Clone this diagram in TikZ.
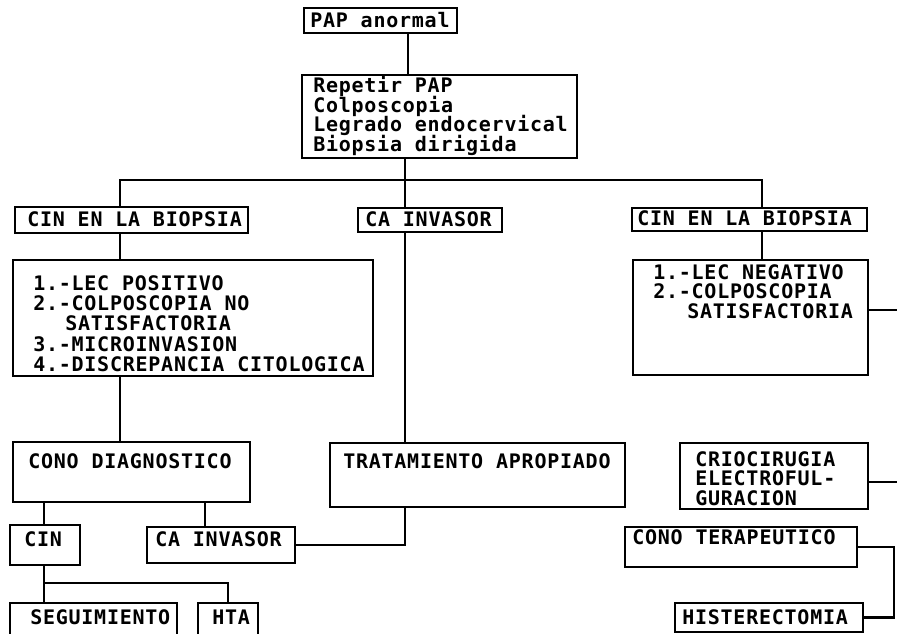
\documentclass[tikz,border=0pt]{standalone}
\usepackage{fontspec}
\newfontfamily\dotfont{DejaVu Sans Mono}[LetterSpace=3.8]
\usetikzlibrary{fit}
\begin{document}
\begin{tikzpicture}[x=0.75pt,y=-0.75pt,
  box/.style={draw, line width=1.7pt, inner sep=0pt, rectangle},
  txt/.style={anchor=base west, inner sep=0pt, font=\dotfont\bfseries\fontsize{15pt}{18pt}\selectfont},
  link/.style={line width=2pt}]
\useasboundingbox (0,0) rectangle (897,634);

% boxes
\node[box, fit={(304,8) (457,33)}] (pap) {};
\node[box, fit={(302,75) (577,158)}] (rep) {};
\node[box, fit={(15,207) (248,233)}] (cinL) {};
\node[box, fit={(358,208) (502,232)}] (caI) {};
\node[box, fit={(632,208) (867,231)}] (cinR) {};
\node[box, fit={(13,260) (373,376)}] (lecP) {};
\node[box, fit={(633,260) (868,375)}] (lecN) {};
\node[box, fit={(13,442) (250,502)}] (cond) {};
\node[box, fit={(330,443) (625,507)}] (trat) {};
\node[box, fit={(680,443) (868,509)}] (crio) {};
\node[box, fit={(10,525) (80,565)}] (cinS) {};
\node[box, fit={(147,527) (295,563)}] (caII) {};
\node[box, fit={(625,527) (857,567)}] (cono) {};
\node[box, fit={(10,603) (177,640)}] (seg) {};
\node[box, fit={(198,603) (258,640)}] (hta) {};
\node[box, fit={(675,603) (863,632)}] (hist) {};

% texts
\node[txt] (papT) at (310,28) {PAP anormal};
\node[txt] (rep1) at (313,93) {Repetir PAP};
\node[txt] (rep2) at (313,112.5) {Colposcopia};
\node[txt] (rep3) at (313,132) {Legrado endocervical};
\node[txt] (rep4) at (313,151.5) {Biopsia dirigida};
\node[txt] (cinLT) at (27,227) {CIN EN LA BIOPSIA};
\node[txt] (caIT) at (365,227) {CA INVASOR};
\node[txt] (cinRT) at (637,226) {CIN EN LA BIOPSIA};
\node[txt] (lecP1) at (33,290.5) {1.-LEC POSITIVO};
\node[txt] (lecP2) at (33,310.5) {2.-COLPOSCOPIA NO};
\node[txt] (lecP3) at (65,331) {SATISFACTORIA};
\node[txt] (lecP4) at (33,351.5) {3.-MICROINVASION};
\node[txt] (lecP5) at (33,372) {4.-DISCREPANCIA CITOLOGICA};
\node[txt] (lecN1) at (653,279.5) {1.-LEC NEGATIVO};
\node[txt] (lecN2) at (653,299) {2.-COLPOSCOPIA};
\node[txt] (lecN3) at (687,318.5) {SATISFACTORIA};
\node[txt] (condT) at (28,469) {CONO DIAGNOSTICO};
\node[txt] (tratT) at (343,469) {TRATAMIENTO APROPIADO};
\node[txt] (crio1) at (695,466.5) {CRIOCIRUGIA};
\node[txt] (crio2) at (695,486) {ELECTROFUL-};
\node[txt] (crio3) at (695,505.5) {GURACION};
\node[txt] (cinST) at (24,547) {CIN};
\node[txt] (caIIT) at (155,547) {CA INVASOR};
\node[txt] (conoT) at (632,545) {CONO TERAPEUTICO};
\node[txt] (segT) at (30,625) {SEGUIMIENTO};
\node[txt] (htaT) at (212,625) {HTA};
\node[txt] (histT) at (682,624) {HISTERECTOMIA};

% guide coordinates
\coordinate (c408) at (408,0);
\coordinate (c405) at (405,0);
\coordinate (c120) at (120,0);
\coordinate (c762) at (762,0);
\coordinate (c44) at (44,0);
\coordinate (c205) at (205,0);
\coordinate (c228) at (228,0);
\coordinate (c894) at (894,0);
\coordinate (bus) at (0,180);
\coordinate (bus2) at (0,583);
\coordinate (e1) at (897,310);
\coordinate (e2) at (897,482);

% connectors
\draw[link] (pap.south -| c408) -- (rep.north -| c408);
\draw[link] (rep.south -| c405) -- (caI.north -| c405);
\draw[link] (cinL.north -| c120) -- (bus -| c120) -- (bus -| c762) -- (cinR.north -| c762);
\draw[link] (cinL.south -| c120) -- (lecP.north -| c120);
\draw[link] (lecP.south -| c120) -- (cond.north -| c120);
\draw[link] (caI.south -| c405) -- (trat.north -| c405);
\draw[link] (cinR.south -| c762) -- (lecN.north -| c762);
\draw[link] (e1 -| lecN.east) -- (e1);
\draw[link] (e2 -| crio.east) -- (e2);
\draw[link] (cond.south -| c44) -- (cinS.north -| c44);
\draw[link] (cond.south -| c205) -- (caII.north -| c205);
\draw[link] (caII.east) -| (trat.south -| c405);
\draw[link] (cinS.south -| c44) -- (seg.north -| c44);
\draw[link] (bus2 -| c44) -- (bus2 -| c228) -- (hta.north -| c228);
\draw[link] (cono.east) -- (cono.east -| c894) -- (hist.east -| c894) -- (hist.east);
\end{tikzpicture}
\end{document}
